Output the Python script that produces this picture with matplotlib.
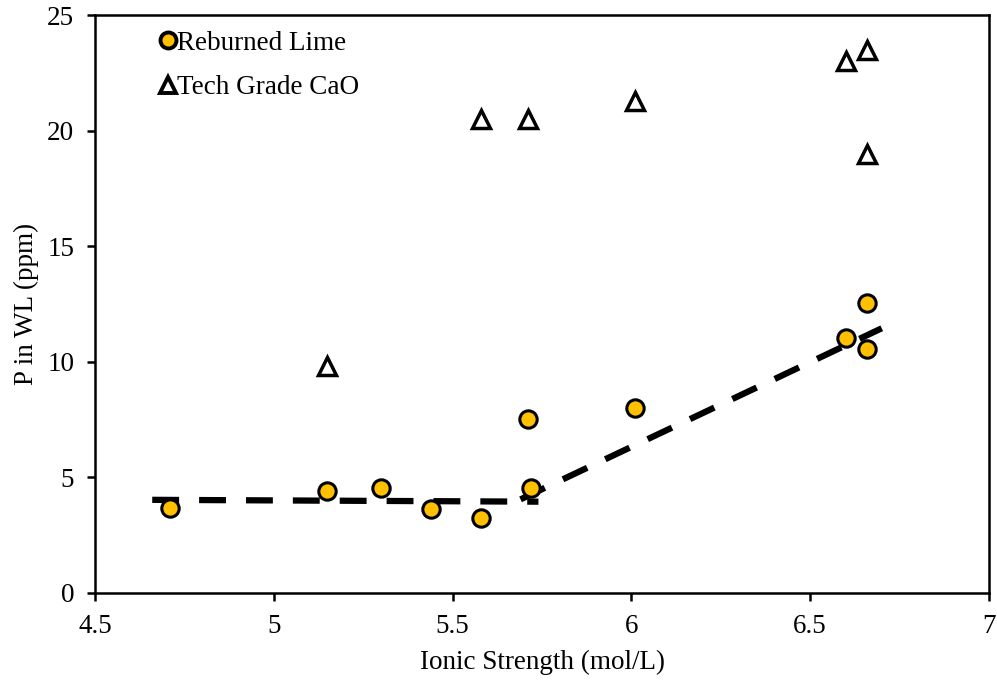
import matplotlib
matplotlib.use("Agg")
import matplotlib.pyplot as plt
from matplotlib.lines import Line2D

plt.rcParams['font.family'] = ['Liberation Serif', 'DejaVu Serif']

# Data
lime_x = [4.71, 5.15, 5.30, 5.44, 5.58, 5.71, 5.72, 6.01, 6.60, 6.66, 6.66]
lime_y = [3.68, 4.40, 4.55, 3.64, 3.25, 7.54, 4.55, 8.00, 11.05, 12.55, 10.55]
cao_x = [5.15, 5.58, 5.71, 6.01, 6.60, 6.66, 6.66]
cao_y = [9.8, 20.5, 20.5, 21.3, 23.0, 23.5, 19.0]
fit1_x = [4.66, 5.74]
fit1_y = [4.03, 3.95]
fit2_x = [5.69, 6.70]
fit2_y = [4.05, 11.45]

FS = 19.5
fig = plt.figure(figsize=(9.97, 6.82), dpi=100)
ax = fig.add_axes([0.0953, 0.1305, 0.8967, 0.8475])

dash = (0, (4.3, 3.2))
ax.plot(fit1_x, fit1_y, color='black', lw=4.5, ls=dash, zorder=2)
ax.plot(fit2_x, fit2_y, color='black', lw=4.5, ls=dash, zorder=2)

ax.plot(lime_x, lime_y, ls='none', marker='o', ms=12.5, mfc='#FFC000',
        mec='black', mew=2.2, zorder=3)
ax.plot(cao_x, cao_y, ls='none', marker='^', ms=13, mfc='white',
        mec='black', mew=2.5, zorder=3)

ax.set_xlim(4.5, 7)
ax.set_ylim(0, 25)
ax.set_xticks([4.5, 5, 5.5, 6, 6.5, 7])
ax.set_xticklabels(['4.5', '5', '5.5', '6', '6.5', '7'])
ax.set_yticks([0, 5, 10, 15, 20, 25])
ax.tick_params(direction='out', length=6, width=1.8, labelsize=FS, pad=9)
for s in ax.spines.values():
    s.set_linewidth(1.8)

ax.set_xlabel('Ionic Strength (mol/L)', fontsize=FS)
ax.set_ylabel('P in WL (ppm)', fontsize=FS)
ax.xaxis.set_label_coords(0.5, -0.098)
ax.yaxis.set_label_coords(-0.063, 0.5)

handles = [
    Line2D([], [], ls='none', marker='o', ms=11.5, mfc='#FFC000', mec='black', mew=2.8),
    Line2D([], [], ls='none', marker='^', ms=12, mfc='white', mec='black', mew=2.8),
]
ax.legend(handles, ['Reburned Lime', 'Tech Grade CaO'], loc='upper left',
          bbox_to_anchor=(0.073, 0.973), frameon=False, fontsize=FS,
          handlelength=0.55, handletextpad=0.08, labelspacing=0.72,
          borderpad=0, borderaxespad=0)

fig.savefig('out.png', dpi=100)
